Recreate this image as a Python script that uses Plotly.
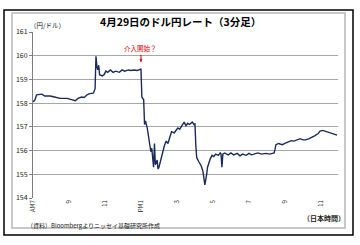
import plotly.graph_objects as go

# Time (hours, JST) and USD/JPY rate
hours = [7.0, 7.1, 7.2, 7.5, 7.65, 7.95, 8.2, 8.5, 8.9, 9.15, 9.35, 9.5, 9.7, 9.85, 10.0, 10.15, 10.35,
         10.45, 10.5, 10.55, 10.6, 10.65, 10.7, 10.85, 10.95, 11.05, 11.15, 11.3, 11.45, 11.6, 11.8,
         11.95, 12.1, 12.3, 12.45, 12.6, 12.8, 12.95, 13.0, 13.05, 13.15, 13.2, 13.25, 13.35, 13.45,
         13.55, 13.6, 13.65, 13.7, 13.75, 13.8, 13.9, 13.95, 14.0, 14.1, 14.2, 14.3, 14.4, 14.5, 14.6,
         14.7, 14.85, 14.95, 15.05, 15.15, 15.3, 15.4, 15.5, 15.6, 15.7, 15.85, 15.95, 16.0, 16.05,
         16.1, 16.2, 16.35, 16.45, 16.55, 16.65, 16.7, 16.85, 16.95, 17.05, 17.15, 17.3, 17.4, 17.45,
         17.5, 17.55, 17.65, 17.85, 18.0, 18.15, 18.35, 18.5, 18.65, 18.85, 19.0, 19.15, 19.35, 19.5,
         19.7, 19.95, 20.15, 20.4, 20.45, 20.5, 20.65, 20.85, 21.0, 21.15, 21.35, 21.5, 21.65, 21.85,
         22.0, 22.15, 22.35, 22.5, 22.65, 22.85, 22.95, 23.1, 23.3, 23.45, 23.6, 23.8, 23.9]
rates = [158.06, 158.12, 158.35, 158.38, 158.3, 158.3, 158.26, 158.2, 158.2, 158.13, 158.1, 158.2,
         158.26, 158.24, 158.35, 158.4, 158.42,
         158.6, 159.98, 159.55, 159.4, 159.6, 159.2, 159.15, 159.2, 159.35, 159.3, 159.4, 159.3,
         159.35, 159.3, 159.4, 159.35, 159.4, 159.38, 159.4, 159.38, 159.42, 159.45, 158.25, 158.15,
         157.1, 157.25, 156.95, 156.5, 155.95, 156.1, 155.5, 155.3, 156.3, 155.4, 155.6, 155.22,
         155.3, 155.6, 155.95, 156.2, 156.4, 156.3, 156.55, 156.8, 156.75, 156.85, 156.95, 156.9,
         157.05, 157.2, 157.05, 157.15, 157.1, 157.2, 157.1, 157.12, 156.2, 155.7, 155.55, 155.35,
         155.1, 154.55, 155.0, 155.3, 155.65, 155.8, 155.75, 155.85, 155.8, 155.9, 155.85, 155.3,
         155.85, 155.9, 155.82, 155.9, 155.82, 155.88, 155.78, 155.85, 155.8, 155.88, 155.82, 155.85,
         155.9, 155.85, 155.88, 155.85, 155.9, 156.05, 156.25, 156.3, 156.25, 156.3, 156.35, 156.42,
         156.4, 156.45, 156.5, 156.45, 156.45, 156.5, 156.55, 156.62, 156.72, 156.82, 156.85, 156.8,
         156.78, 156.75, 156.7, 156.65]

tick_vals = [7, 9, 11, 13, 15, 17, 19, 21, 23]
tick_text = ["AM7", "9", "11", "PM1", "3", "5", "7", "9", "11"]
y_ticks = [154, 155, 156, 157, 158, 159, 160, 161]

FONT = "Noto Sans CJK JP"

fig = go.Figure()
fig.add_trace(go.Scatter(x=hours, y=rates, mode="lines",
                         line=dict(color="#1a2a5c", width=1.4), hoverinfo="skip"))

L, R, T, B = 33, 22, 32, 47
W, H = 360, 245
pw, ph = W - L - R, H - T - B

def px(x):
    return (x - L) / pw

def py(y):
    return (H - B - y) / ph

fig.update_layout(
    width=W, height=H,
    margin=dict(l=L, r=R, t=T, b=B),
    paper_bgcolor="white", plot_bgcolor="white",
    showlegend=False,
    font=dict(family=FONT, color="#222222", size=7),
    xaxis=dict(range=[7, 23.95], tickmode="array", tickvals=tick_vals, ticktext=tick_text,
               tickangle=-90, showgrid=False, zeroline=False, showline=False,
               tickfont=dict(size=6, family=FONT), ticks=""),
    yaxis=dict(range=[154, 161], tickmode="array", tickvals=y_ticks,
               showgrid=True, gridcolor="#a6a6a6", gridwidth=1, zeroline=False,
               showline=True, linecolor="#7f7f7f", linewidth=1,
               ticks="outside", ticklen=3, tickcolor="#7f7f7f",
               tickfont=dict(size=7, family=FONT)),
    shapes=[
        dict(type="rect", xref="paper", yref="paper", x0=px(4), x1=px(353), y0=py(235), y1=py(10),
             line=dict(color="black", width=1.5), layer="below"),
        dict(type="rect", xref="paper", yref="paper", x0=px(12), x1=px(345), y0=py(228), y1=py(13),
             line=dict(color="#c8c8c8", width=2), layer="below"),
    ],
    annotations=[
        dict(text="<b>4月29日のドル円レート（3分足）</b>", xref="paper", yref="paper",
             x=px(180), y=py(22), xanchor="center", yanchor="middle", showarrow=False,
             font=dict(size=10.5, family=FONT, color="black")),
        dict(text="（円/ドル）", xref="paper", yref="paper", x=px(28), y=py(25),
             xanchor="left", yanchor="middle", showarrow=False, font=dict(size=6.5, family=FONT)),
        dict(text="介入開始？", x=13.0, y=159.72, ax=0, ay=-14, showarrow=True,
             arrowhead=2, arrowsize=0.6, arrowwidth=1, arrowcolor="#d00000",
             font=dict(size=6.5, family=FONT, color="#d00000")),
        dict(text="<b>（日本時間）</b>", xref="paper", yref="paper", x=px(347), y=py(218),
             xanchor="right", yanchor="middle", showarrow=False, font=dict(size=7, family=FONT)),
        dict(text="（資料）Bloombergよりニッセイ基礎研究所作成", xref="paper", yref="paper",
             x=px(25), y=py(226), xanchor="left", yanchor="middle", showarrow=False,
             font=dict(size=6, family=FONT)),
    ],
)

fig.write_html("out.html")
